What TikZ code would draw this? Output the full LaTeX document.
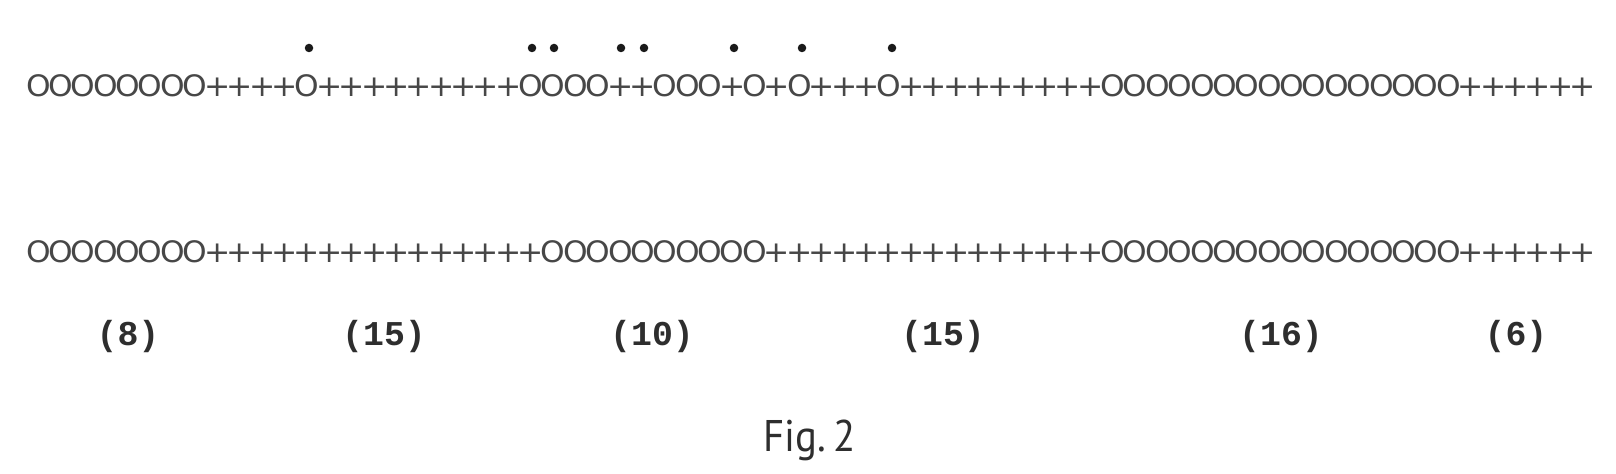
\documentclass[tikz,border=0pt]{standalone}
\usepackage{fontspec}
\newfontfamily\rowfont[FakeStretch=1.06]{DejaVu Sans}
\newfontfamily\countfont{Liberation Mono}
\newfontfamily\captionfont[FakeStretch=0.92]{PT Sans}
\definecolor{inkgrey}{HTML}{474747}
\definecolor{inkdark}{HTML}{2E2E2E}
\definecolor{inkblack}{HTML}{1A1A1A}
% one character per fixed typewriter step
\newlength\typepitch
\setlength\typepitch{6.365pt}
\makeatletter
\newcommand\typeline[1]{\typeline@next#1\relax}
\def\typeline@next#1{\ifx\relax#1\else\makebox[\typepitch]{#1}\expandafter\typeline@next\fi}
\makeatother
\begin{document}
\begin{tikzpicture}[x=0.01cm,y=-0.01cm,
    row/.style={anchor=base west,inner sep=0pt,text=inkgrey,
      font=\rowfont\fontsize{8.4}{10}\selectfont},
    count/.style={anchor=base,inner sep=0pt,text=inkdark,
      font=\countfont\bfseries\fontsize{9.9}{12}\selectfont},
    caption/.style={anchor=base,inner sep=0pt,text=inkdark,
      font=\captionfont\fontsize{12.6}{14}\selectfont},
    dotmark/.style={circle,fill=inkblack,inner sep=0pt,minimum size=0.085cm}]
  \useasboundingbox (0,0) rectangle (1616,474);
  \draw
    (26.5,97) node[row] (upper){\typeline{OOOOOOOO++++O+++++++++OOOO++OOO+O+O+++O+++++++++OOOOOOOOOOOOOOOO++++++}}
    (26.5,263) node[row] (lower){\typeline{OOOOOOOO+++++++++++++++OOOOOOOOOO+++++++++++++++OOOOOOOOOOOOOOOO++++++}};
  \begin{scope}
    \node[dotmark] (dot12) at (309,48) {};
    \node[dotmark] (dot22) at (532,48) {};
    \node[dotmark] (dot23) at (554,48) {};
    \node[dotmark] (dot26) at (621,48) {};
    \node[dotmark] (dot27) at (644,48) {};
    \node[dotmark] (dot31) at (734,48) {};
    \node[dotmark] (dot34) at (802,48) {};
    \node[dotmark] (dot38) at (892,48) {};
  \end{scope}
  \draw
    (128,346) node[count] (n8){(8)}
    (384,346) node[count] (n15a){(15)}
    (652,346) node[count] (n10){(10)}
    (943,346) node[count] (n15b){(15)}
    (1281,346) node[count] (n16){(16)}
    (1516,346) node[count] (n6){(6)};
  \node[caption] (fig) at (810,452) {Fig.\,2};
\end{tikzpicture}
\end{document}
